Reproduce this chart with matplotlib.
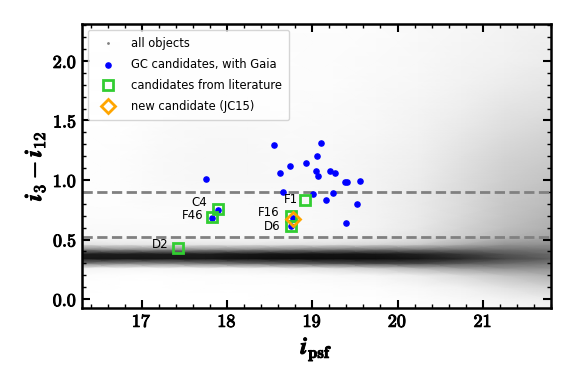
import numpy as np
import matplotlib
matplotlib.use("Agg")
import matplotlib.pyplot as plt
import matplotlib.patheffects as pe
from matplotlib.ticker import MultipleLocator, FuncFormatter

plt.rcParams['mathtext.fontset'] = 'cm'

# background "all objects" cloud: estimated ink coverage (%)
# at grid nodes (x = i_psf, y = colour)
cloud_x = [16.3, 16.75, 17.25, 17.75, 18.25, 18.75, 19.25, 19.75, 20.25, 20.75, 21.25, 21.8]
cloud_y = [-0.08, 0.0, 0.1, 0.2, 0.26, 0.30, 0.34, 0.38, 0.42, 0.46, 0.52,
           0.6, 0.7, 0.8, 0.9, 1.0, 1.2, 1.4, 1.6, 1.8, 2.0, 2.31]
cloud_ink = [
    [0, 0, 0, 0, 0, 0, 1, 1, 2, 3, 6, 9],            # -0.08
    [0, 0, 0, 0, 0, 1, 1, 1, 3, 6, 10, 15],          # 0.0
    [1, 0, 0, 1, 1, 1, 2, 3, 6, 12, 20, 28],         # 0.1
    [2, 1, 1, 2, 2, 3, 5, 8, 15, 25, 35, 42],        # 0.2
    [10, 8, 8, 10, 12, 16, 22, 30, 40, 48, 52, 52],  # 0.26
    [60, 55, 55, 60, 65, 70, 75, 78, 78, 72, 66, 60],  # 0.30
    [92, 92, 92, 92, 94, 95, 95, 95, 92, 86, 78, 70],  # 0.34
    [90, 90, 90, 90, 92, 93, 93, 92, 88, 82, 74, 66],  # 0.38
    [55, 50, 50, 50, 52, 55, 58, 60, 60, 62, 62, 60],  # 0.42
    [20, 18, 18, 18, 18, 20, 22, 26, 32, 42, 50, 52],  # 0.46
    [6, 6, 6, 6, 6, 7, 9, 13, 20, 30, 40, 45],       # 0.52
    [4, 4, 4, 4, 4, 4, 6, 10, 17, 27, 36, 42],       # 0.6
    [3, 3, 3, 4, 4, 4, 6, 10, 16, 25, 34, 40],       # 0.7
    [2, 2, 4, 4, 4, 5, 7, 10, 16, 24, 33, 38],       # 0.8
    [1, 2, 4, 5, 5, 5, 7, 10, 16, 24, 32, 37],       # 0.9
    [1, 2, 5, 7, 7, 6, 7, 10, 15, 23, 30, 35],       # 1.0
    [1, 2, 5, 7, 7, 5, 6, 9, 13, 20, 27, 31],        # 1.2
    [0, 1, 4, 6, 6, 4, 5, 7, 11, 17, 23, 27],        # 1.4
    [0, 1, 3, 4, 4, 3, 4, 6, 9, 14, 19, 22],         # 1.6
    [0, 1, 1, 2, 2, 3, 3, 5, 7, 11, 15, 18],         # 1.8
    [0, 1, 1, 1, 2, 2, 3, 4, 6, 9, 12, 15],          # 2.0
    [0, 0, 1, 1, 1, 2, 2, 3, 5, 7, 9, 12],           # 2.31
]

# GC candidates with Gaia
gc_i = [18.55, 19.10, 19.05, 18.93, 18.74, 18.62, 19.04, 19.07, 19.21, 19.27,
        19.38, 19.41, 19.56, 17.75, 18.66, 19.01, 19.24, 19.16, 19.53, 19.40,
        17.90, 17.82, 18.77, 18.75]
gc_col = [1.29, 1.31, 1.20, 1.14, 1.115, 1.056, 1.076, 1.036, 1.078, 1.06,
          0.986, 0.986, 0.994, 1.01, 0.90, 0.88, 0.89, 0.83, 0.80, 0.64,
          0.75, 0.68, 0.68, 0.61]

# candidates from literature
lit_names = ["C4", "F46", "F1", "F16", "D6", "D2"]
lit_i = [17.89, 17.82, 18.91, 18.75, 18.75, 17.42]
lit_col = [0.754, 0.687, 0.83, 0.70, 0.616, 0.426]
lit_label_i = [17.68, 17.60, 18.75, 18.49, 18.53, 17.22]
lit_label_col = [0.81, 0.70, 0.84, 0.73, 0.61, 0.46]

# new candidate
new_i = [18.77]
new_col = [0.67]

cuts = [0.9, 0.52]

fig = plt.figure(figsize=(5.74, 3.83), dpi=100)
ax = fig.add_axes([82/574, 1-308/383, (551-82)/574, (308-24)/383])

ink = np.array(cloud_ink) / 100.0
ax.pcolormesh(cloud_x, cloud_y, ink, shading='gouraud', cmap='Greys',
              vmin=0, vmax=1, zorder=0, rasterized=True)
ax.plot([], [], '.', ms=2, color='gray', ls='none', label='all objects')

for c in cuts:
    ax.axhline(c, color='gray', ls='--', lw=2, zorder=2)

ax.scatter(gc_i, gc_col, s=14, color='blue', zorder=3, label='GC candidates, with Gaia')
ax.plot(lit_i, lit_col, 's', ms=7, mfc='none', mec='limegreen', mew=2, ls='none',
        zorder=4, label='candidates from literature')
ax.plot(new_i, new_col, 'D', ms=7, mfc='none', mec='orange', mew=2, ls='none',
        zorder=5, label='new candidate (JC15)')

for n, xx, yy in zip(lit_names, lit_label_i, lit_label_col):
    ax.text(xx, yy, n, fontsize=8.5, ha='center', va='center', zorder=6)

ax.set_xlim(16.3, 21.8)
ax.set_ylim(-0.075, 2.31)

ax.xaxis.set_major_locator(MultipleLocator(1))
ax.xaxis.set_minor_locator(MultipleLocator(0.2))
ax.yaxis.set_major_locator(MultipleLocator(0.5))
ax.yaxis.set_minor_locator(MultipleLocator(0.1))
ax.xaxis.set_major_formatter(FuncFormatter(lambda v, p: r'$\mathbf{%d}$' % round(v)))
ax.yaxis.set_major_formatter(FuncFormatter(lambda v, p: r'$\mathbf{%.1f}$' % v))
ax.tick_params(which='both', direction='in', top=True, right=True, labelsize=13)
ax.tick_params(which='major', length=6, width=1.5)
ax.tick_params(which='minor', length=3, width=1)
for s in ax.spines.values():
    s.set_linewidth(1.8)

ax.set_xlabel(r'$\boldsymbol{i}_{\mathbf{psf}}$', fontsize=17, labelpad=4)
ax.set_ylabel(r'$\boldsymbol{i}_{\mathbf{3}}-\boldsymbol{i}_{\mathbf{12}}$', fontsize=17, labelpad=4)

ax.legend(loc='upper left', fontsize=8.3, handlelength=2.3, handletextpad=0.85,
          borderpad=0.6, labelspacing=0.7, markerscale=1)

# make the computer-modern labels a bit heavier, like the bold original
fig.canvas.draw()
thick = [pe.withStroke(linewidth=0.7, foreground='black')]
for t in ax.get_xticklabels() + ax.get_yticklabels():
    t.set_path_effects(thick)
ax.xaxis.label.set_path_effects(thick)
ax.yaxis.label.set_path_effects(thick)

fig.savefig('out.png', dpi=100)
